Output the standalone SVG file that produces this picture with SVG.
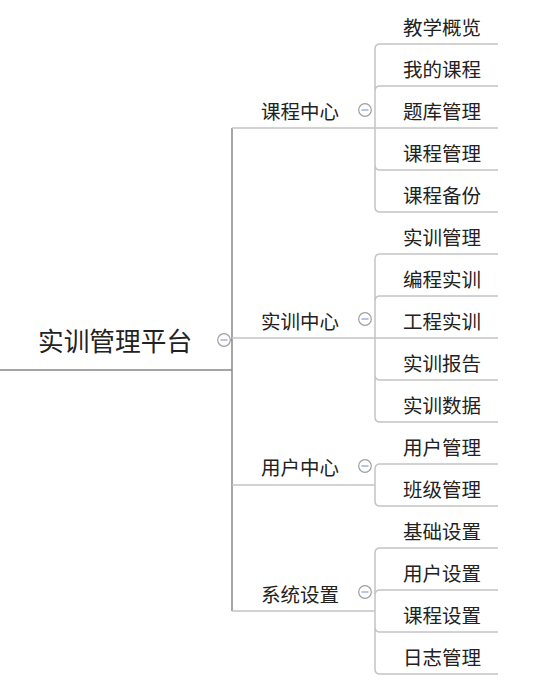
<svg xmlns="http://www.w3.org/2000/svg" width="539" height="689" viewBox="0 0 539 689">
<style>
text{font-family:"Noto Sans CJK SC","Noto Sans",sans-serif;fill:#222;dominant-baseline:central}
.root{font-size:25.7px}
.br{font-size:19.5px}
.lf{font-size:19.5px}
.main{fill:none;stroke:#888;stroke-width:1.5}
.sub{fill:none;stroke:#c4c4c4;stroke-width:1.5}
.btn circle{fill:#fff;stroke:#a0a0a0;stroke-width:1.2}
.btn line{stroke:#8a9ad0;stroke-width:1.2}
</style>
<defs>
<g id="minus" class="btn"><circle cx="0" cy="0" r="6.3"/><line x1="-3.5" y1="0" x2="3.5" y2="0"/></g>
</defs>
<g id="connectors">
<path class="main" d="M0,370 H232 M232,128 V611 M230,340 H232"/>
<path class="sub" d="M232,128 H375 M232,338 H375 M232,485 H375 M232,611 H375"/>
<path class="sub" d="M375,128 V49 Q375,44 380,44 H498 M375,128 V91 Q375,86 380,86 H498 M375,128 H498 M375,128 V165 Q375,170 380,170 H498 M375,128 V207 Q375,212 380,212 H498"/>
<path class="sub" d="M375,338 V259 Q375,254 380,254 H498 M375,338 V301 Q375,296 380,296 H498 M375,338 H498 M375,338 V375 Q375,380 380,380 H498 M375,338 V417 Q375,422 380,422 H498"/>
<path class="sub" d="M375,485 V469 Q375,464 380,464 H498 M375,485 V501 Q375,506 380,506 H498"/>
<path class="sub" d="M375,611 V553 Q375,548 380,548 H498 M375,611 V595 Q375,590 380,590 H498 M375,611 V627 Q375,632 380,632 H498 M375,611 V669 Q375,674 380,674 H498"/>
</g>
<g id="root"><text class="root" x="38" y="339">实训管理平台</text><use href="#minus" x="224" y="340"/></g>
<g id="b1"><text class="br" x="261" y="110">课程中心</text><use href="#minus" x="365" y="110"/></g>
<g id="b2"><text class="br" x="261" y="320">实训中心</text><use href="#minus" x="365" y="319"/></g>
<g id="b3"><text class="br" x="261" y="466">用户中心</text><use href="#minus" x="365" y="466"/></g>
<g id="b4"><text class="br" x="261" y="593">系统设置</text><use href="#minus" x="365" y="592"/></g>
<g id="l1"><text class="lf" x="403" y="26">教学概览</text></g>
<g id="l2"><text class="lf" x="403" y="68">我的课程</text></g>
<g id="l3"><text class="lf" x="403" y="110">题库管理</text></g>
<g id="l4"><text class="lf" x="403" y="152">课程管理</text></g>
<g id="l5"><text class="lf" x="403" y="194">课程备份</text></g>
<g id="l6"><text class="lf" x="403" y="236">实训管理</text></g>
<g id="l7"><text class="lf" x="403" y="278">编程实训</text></g>
<g id="l8"><text class="lf" x="403" y="320">工程实训</text></g>
<g id="l9"><text class="lf" x="403" y="362">实训报告</text></g>
<g id="l10"><text class="lf" x="403" y="404">实训数据</text></g>
<g id="l11"><text class="lf" x="403" y="446">用户管理</text></g>
<g id="l12"><text class="lf" x="403" y="488">班级管理</text></g>
<g id="l13"><text class="lf" x="403" y="530">基础设置</text></g>
<g id="l14"><text class="lf" x="403" y="572">用户设置</text></g>
<g id="l15"><text class="lf" x="403" y="614">课程设置</text></g>
<g id="l16"><text class="lf" x="403" y="656">日志管理</text></g>
</svg>
